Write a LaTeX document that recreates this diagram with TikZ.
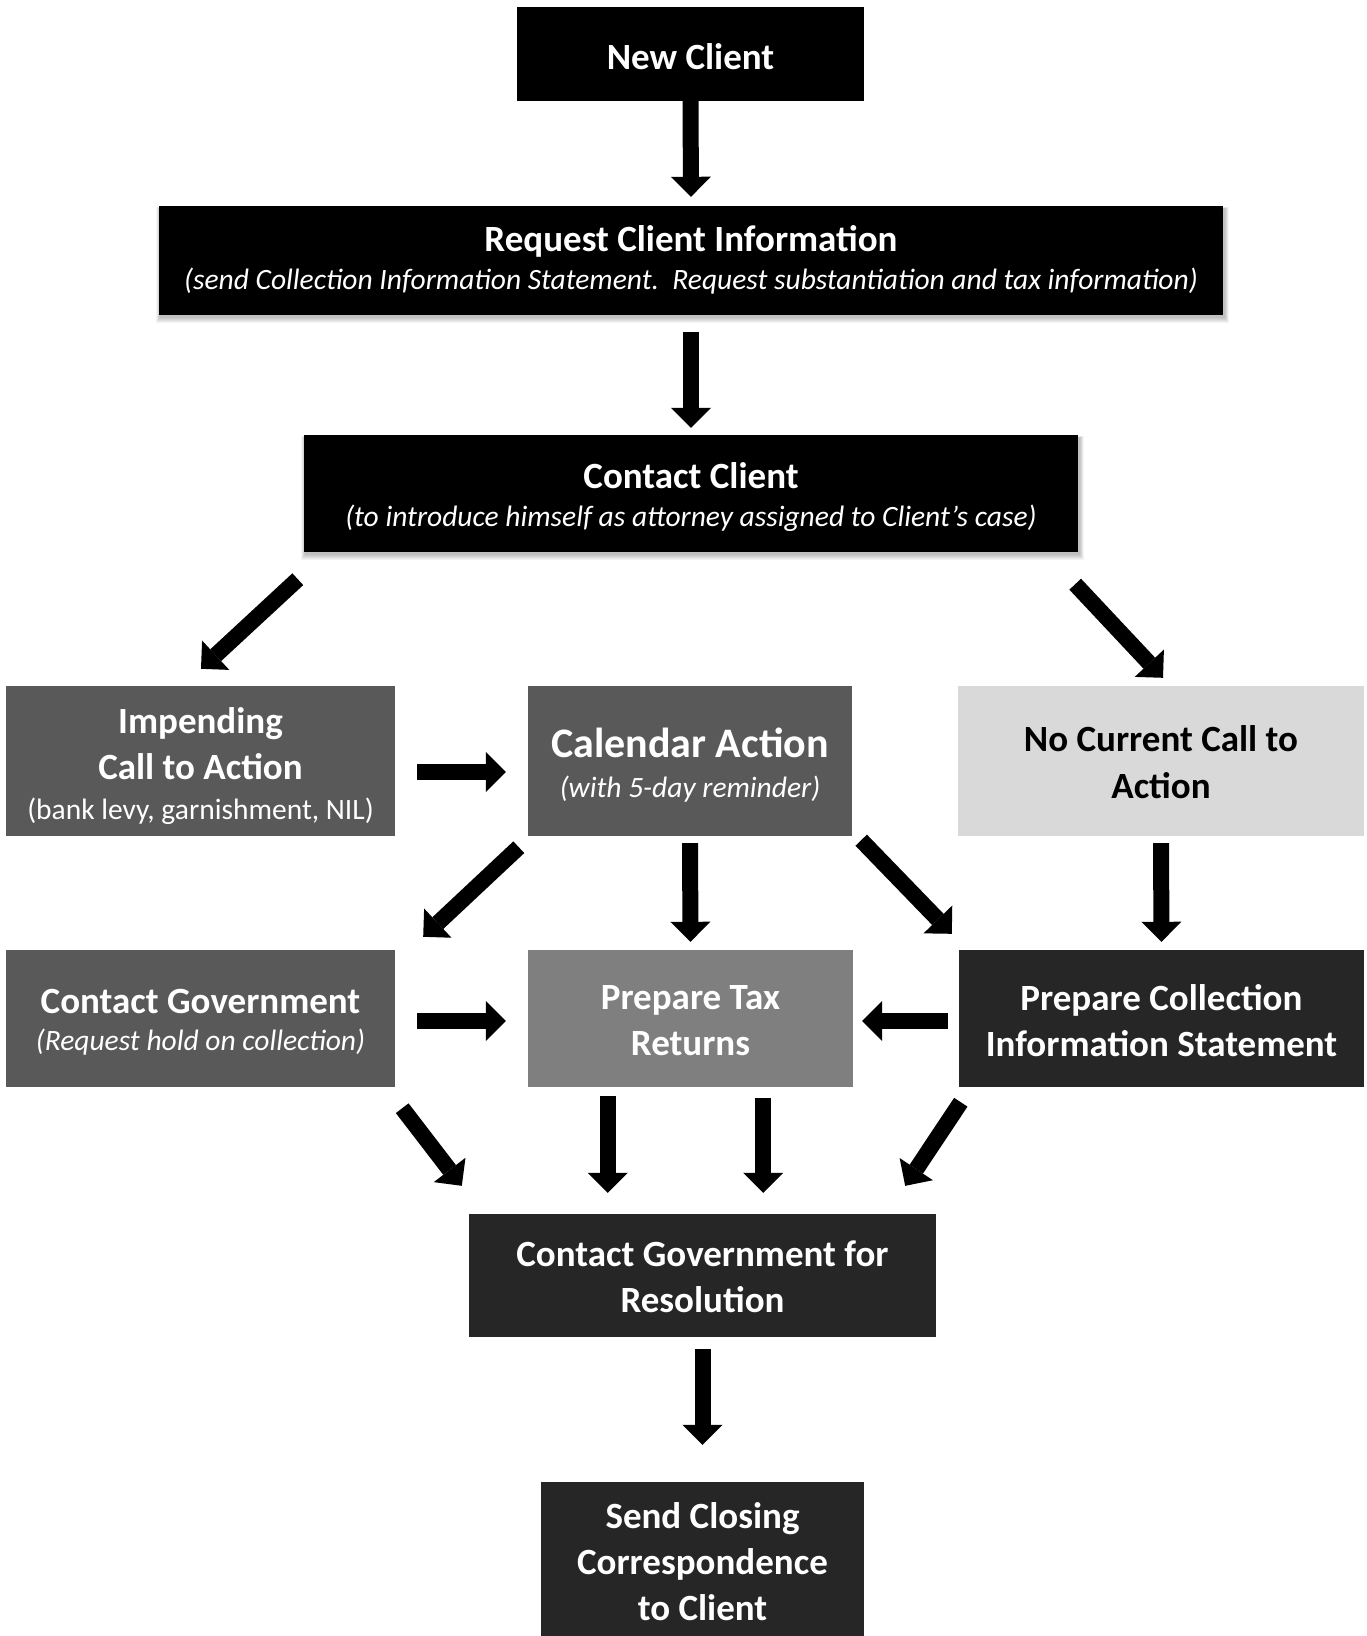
\documentclass[tikz,border=0pt]{standalone}
\usepackage{fontspec}
\setmainfont{Carlito}
\usetikzlibrary{arrows.meta,calc,backgrounds}
\definecolor{gmid}{HTML}{595959}
\definecolor{glight}{HTML}{D9D9D9}
\definecolor{gtax}{HTML}{7F7F7F}
\definecolor{gdark}{HTML}{262626}
\begin{document}
\begin{tikzpicture}[x=1pt,y=-1pt,
  box/.style={rectangle, inner sep=0pt},
  tx/.style={inner sep=0pt, align=center, text=white, font=\fontsize{37}{#1}\selectfont\bfseries},
  blk/.style={line width=16pt, -{Triangle[length=20pt,width=40pt,line width=0pt]}},
  softshadow/.style={fill=black, opacity=0.045}
]
\newcommand\subit{\fontsize{29.5}{40}\selectfont\mdseries\itshape}
\newcommand\subrm{\fontsize{29.5}{40}\selectfont\mdseries}
\useasboundingbox (0,0) rectangle (1366,1636);

% boxes
\node[box, fill=black, minimum width=347pt, minimum height=94pt] (newc) at (690.5,54) {};
\node[box, fill=black, minimum width=1064pt, minimum height=109pt] (req) at (691,260.5) {};
\node[box, fill=black, minimum width=774pt, minimum height=117pt] (cc) at (691,493.5) {};
\node[box, fill=gmid, minimum width=389pt, minimum height=150pt] (imp) at (200.5,761) {};
\node[box, fill=gmid, minimum width=324pt, minimum height=150pt] (cal) at (690,761) {};
\node[box, fill=glight, minimum width=406pt, minimum height=150pt] (noc) at (1161,761) {};
\node[box, fill=gmid, minimum width=389pt, minimum height=137pt] (cg) at (200.5,1018.5) {};
\node[box, fill=gtax, minimum width=325pt, minimum height=137pt] (ptr) at (690.5,1018.5) {};
\node[box, fill=gdark, minimum width=405pt, minimum height=137pt] (pcis) at (1161.5,1018.5) {};
\node[box, fill=gdark, minimum width=467pt, minimum height=123pt] (res) at (702.5,1275.5) {};
\node[box, fill=gdark, minimum width=323pt, minimum height=154pt] (close) at (702.5,1559) {};

% texts
\node[tx=46] (newc-t) at ($(newc)+(0,3)$) {New Client};
\node[tx=38] (req-t) at ($(req)+(0,-1)$) {Request Client Information\\{\subit (send Collection Information Statement.\ \ Request substantiation and tax information)}};
\node[tx=38] (cc-t) at ($(cc)+(0,4)$) {Contact Client\\{\subit (to introduce himself as attorney assigned to Client's case)}};
\node[tx=46] (imp-t) at ($(imp)+(0,5)$) {Impending\\Call to Action\\[-6pt]{\subrm (bank levy, garnishment, NIL)}};
\node[tx=40, font=\fontsize{42}{40}\selectfont\bfseries] (cal-t) at ($(cal)+(0,4)$) {Calendar Action\\{\subit (with 5-day reminder)}};
\node[tx=47, text=black] (noc-t) at ($(noc)+(0,1)$) {No Current Call to\\Action};
\node[tx=37] (cg-t) at ($(cg)+(0,3.5)$) {Contact Government\\{\subit (Request hold on collection)}};
\node[tx=46] (ptr-t) at ($(ptr)+(0,2)$) {Prepare Tax\\Returns};
\node[tx=46] (pcis-t) at ($(pcis)+(0,2)$) {Prepare Collection\\Information Statement};
\node[tx=46] (res-t) at ($(res)+(0,1)$) {Contact Government for\\Resolution};
\node[tx=46] (close-t) at ($(close)+(0,3)$) {Send Closing\\Correspondence\\to Client};

% soft shadows and white page, behind everything
\begin{pgfonlayer}{background}
\fill[white] (0,0) rectangle (1366,1636);
\foreach \n in {req,cc}{
  \foreach \i in {1,...,6}{
    \fill[softshadow] ($(\n.north west)+(2-0.8*\i,3-0.3*\i)$) rectangle ($(\n.south east)+(1+0.8*\i,2+\i)$);
  }
}
\end{pgfonlayer}

% connectors
\draw[blk] (newc.south) -- ($(req.north)+(0,-9)$);
\draw[blk] ($(req.south)+(0,17)$) -- ($(cc.north)+(0,-7)$);
\draw[blk] ($(cc.south west)+(-6,27)$) -- ($(imp.north)+(0.5,-17)$);
\draw[blk] ($(cc.south east)+(-3,32)$) -- ($(noc.north)+(2,-8)$);
\draw[blk] ($(imp.east)+(22,11)$) -- ($(cal.west)+(-22,11)$);
\draw[blk] ($(cal.south west)+(-9,11)$) -- ($(cg.north east)+(28,-13)$);
\draw[blk] ($(cal.south)+(0,7)$) -- ($(ptr.north)+(0,-8)$);
\draw[blk] ($(cal.south east)+(9,4)$) -- ($(pcis.north west)+(-7,-16)$);
\draw[blk] ($(noc.south)+(0,7)$) -- ($(pcis.north)+(0,-8)$);
\draw[blk] ($(cg.east)+(22,2.5)$) -- ($(ptr.west)+(-22,2.5)$);
\draw[blk] ($(pcis.west)+(-11,2.5)$) -- ($(ptr.east)+(9,2.5)$);
\draw[blk] ($(cg.south east)+(7,21)$) -- ($(res.north west)+(-7,-28)$);
\draw[blk] ($(ptr.south west)+(80,9)$) -- ($(res.north west)+(139,-21)$);
\draw[blk] ($(ptr.south east)+(-90,11)$) -- ($(res.north east)+(-173,-21)$);
\draw[blk] ($(pcis.south west)+(2,15)$) -- ($(res.north east)+(-31,-28)$);
\draw[blk] ($(res.south)+(0,12)$) -- ($(close.north)+(0,-37)$);
\end{tikzpicture}
\end{document}
